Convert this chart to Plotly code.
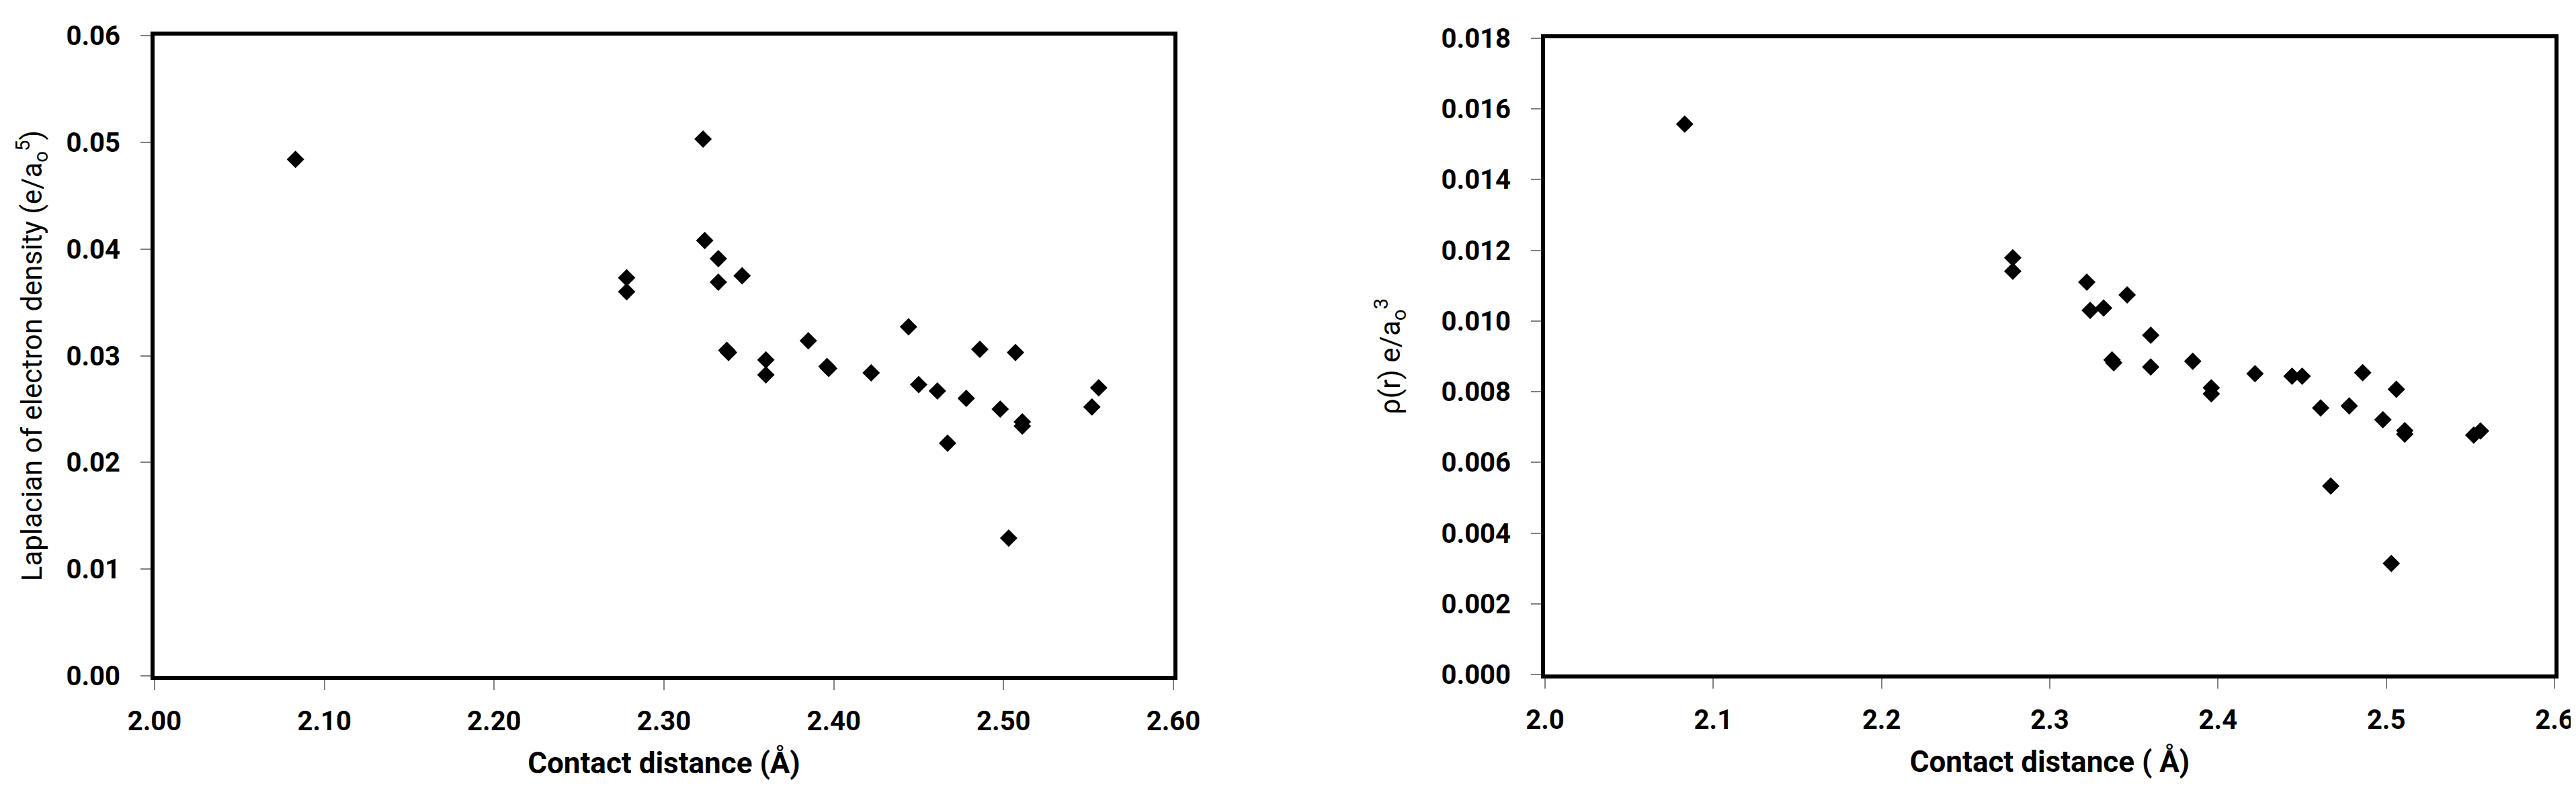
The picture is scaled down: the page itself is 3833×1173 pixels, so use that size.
import plotly.graph_objects as go

# Left panel: Laplacian of electron density vs contact distance
x_lap = [2.083, 2.278, 2.278, 2.323, 2.324, 2.332, 2.332, 2.346, 2.337, 2.338,
         2.360, 2.360, 2.385, 2.396, 2.397, 2.422, 2.444, 2.450, 2.461, 2.467,
         2.478, 2.486, 2.498, 2.503, 2.507, 2.511, 2.511, 2.552, 2.556]
y_lap = [0.0484, 0.0373, 0.0360, 0.0503, 0.0408, 0.0391, 0.0369, 0.0375, 0.0305, 0.0303,
         0.0296, 0.0282, 0.0314, 0.0290, 0.0288, 0.0284, 0.0327, 0.0273, 0.0267, 0.0218,
         0.0260, 0.0306, 0.0250, 0.0129, 0.0303, 0.0238, 0.0234, 0.0252, 0.0270]

# Right panel: electron density rho(r) vs contact distance
x_rho = [2.083, 2.278, 2.278, 2.322, 2.324, 2.332, 2.346, 2.337, 2.338,
         2.360, 2.360, 2.385, 2.396, 2.396, 2.422, 2.444, 2.450, 2.461, 2.467,
         2.478, 2.486, 2.498, 2.503, 2.506, 2.511, 2.511, 2.552, 2.556]
y_rho = [0.01557, 0.01179, 0.01141, 0.01110, 0.01030, 0.01037, 0.01074, 0.00890, 0.00882,
         0.00960, 0.00870, 0.00886, 0.00811, 0.00794, 0.00851, 0.00844, 0.00844, 0.00754, 0.00533,
         0.00760, 0.00854, 0.00721, 0.00314, 0.00807, 0.00690, 0.00680, 0.00677, 0.00689]

left_y_ticks = [0.00, 0.01, 0.02, 0.03, 0.04, 0.05, 0.06]
left_x_ticks = [2.0, 2.1, 2.2, 2.3, 2.4, 2.5, 2.6]
right_y_ticks = [0.000, 0.002, 0.004, 0.006, 0.008, 0.010, 0.012, 0.014, 0.016, 0.018]
right_x_ticks = [2.0, 2.1, 2.2, 2.3, 2.4, 2.5, 2.6]

W, H = 3833, 1173
FONT = "Roboto, Liberation Sans, Arial"

fig = go.Figure()
marker = dict(symbol="diamond", size=20, color="black", line=dict(width=0))
fig.add_trace(go.Scatter(x=x_lap, y=y_lap, mode="markers", marker=marker,
                         xaxis="x", yaxis="y", showlegend=False))
fig.add_trace(go.Scatter(x=x_rho, y=y_rho, mode="markers", marker=marker,
                         xaxis="x2", yaxis="y2", showlegend=False))

common_axis = dict(showline=True, mirror=True, linecolor="black", linewidth=6,
                   showgrid=False, zeroline=False, ticks="outside", ticklen=15,
                   tickwidth=2, tickcolor="#808080", automargin=False,
                   tickfont=dict(family=FONT, size=40, color="black", weight="bold"))

fig.update_layout(
    width=W, height=H,
    margin=dict(l=0, r=0, t=0, b=0),
    paper_bgcolor="white", plot_bgcolor="white",
    xaxis=dict(common_axis, domain=[222 / W, 1738 / W], range=[2.0, 2.6],
               tickvals=left_x_ticks, tickformat=".2f", anchor="y",
               ticklabelstandoff=12,
               title=dict(text="<b>Contact distance (Å)</b>", standoff=26,
                          font=dict(family=FONT, size=44, color="black"))),
    yaxis=dict(common_axis, domain=[1 - 998 / H, 1 - 45 / H], range=[0, 0.06],
               tickvals=left_y_ticks, tickformat=".2f", anchor="x",
               ticklabelstandoff=22,
               title=dict(text="Laplacian of electron density (e/a<sub>o</sub><sup>5</sup>)",
                          standoff=25,
                          font=dict(family=FONT, size=42, color="black"))),
    xaxis2=dict(common_axis, domain=[2291 / W, 3793 / W], range=[2.0, 2.6],
                tickvals=right_x_ticks, tickformat=".1f", anchor="y2",
                ticklabelstandoff=12,
                title=dict(text="<b>Contact distance ( Å)</b>", standoff=26,
                           font=dict(family=FONT, size=44, color="black"))),
    yaxis2=dict(common_axis, domain=[1 - 996 / H, 1 - 49 / H], range=[0, 0.018],
                tickvals=right_y_ticks, tickformat=".3f", anchor="x2",
                ticklabelstandoff=22,
                title=dict(text="ρ(r) e/a<sub>o</sub><sup>3</sup>", standoff=50,
                           font=dict(family=FONT, size=42, color="black"))),
)

fig.write_html("out.html")
